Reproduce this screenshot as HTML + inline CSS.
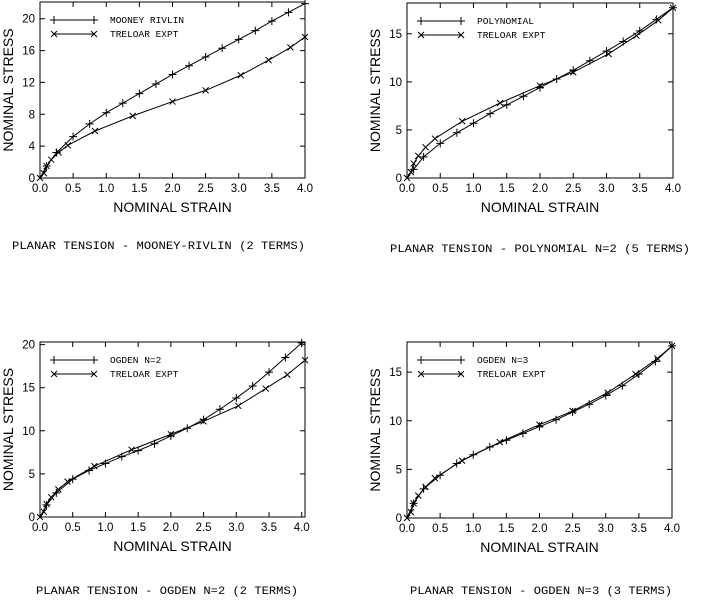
<!DOCTYPE html>
<html><head><meta charset="utf-8"><style>
html,body{margin:0;padding:0;background:#fff;}
svg{display:block}
text{font-family:"Liberation Sans",sans-serif;fill:#000}
.m{font-family:"Liberation Mono",monospace}
</style></head><body>
<svg id="s" width="705" height="604" viewBox="0 0 705 604" xmlns="http://www.w3.org/2000/svg"></svg>
<script>
const S=document.getElementById('s');let h='';
const T=[[0,0],[0.06,0.6],[0.1,1.5],[0.17,2.3],[0.28,3.2],[0.42,4.1],[0.83,5.9],[1.4,7.8],[2.0,9.6],[2.5,11.0],[3.03,12.9],[3.45,14.8],[3.78,16.4],[4.0,17.7]];
const T3=[[0,0],[0.06,0.6],[0.1,1.5],[0.17,2.3],[0.28,3.2],[0.42,4.1],[0.83,5.9],[1.4,7.8],[2.0,9.6],[2.5,11.1],[3.03,12.9],[3.45,14.9],[3.78,16.5],[4.05,18.2]];
const xs=[0,0.1,0.25,0.5,0.75,1,1.25,1.5,1.75,2,2.25,2.5,2.75,3,3.25,3.5,3.75,4];
const z=(a)=>a.map((v,i)=>[xs[i],v]);
const MR=z([0,1.5,3.2,5.2,6.8,8.2,9.4,10.6,11.8,13,14.1,15.2,16.3,17.4,18.5,19.7,20.8,21.9]);
const PO=z([0,0.9,2.2,3.6,4.7,5.7,6.7,7.6,8.5,9.4,10.3,11.2,12.2,13.2,14.2,15.3,16.5,17.7]);
const O2=z([0,1.4,2.8,4.4,5.4,6.2,7.0,7.7,8.5,9.4,10.3,11.3,12.5,13.8,15.2,16.8,18.5,20.2]);
const O3=z([0,1.5,3.0,4.4,5.6,6.5,7.3,8.0,8.7,9.4,10.1,10.9,11.7,12.6,13.6,14.8,16.1,17.7]);
function plus(x,y){return `M${x-4},${y}h8M${x},${y-4}v8`;}
function cross(x,y){return `M${x-3},${y-3}l6,6M${x-3},${y+3}l6,-6`;}
function plot(L,R,Tp,B,xmax,ymax,yt,fit,exp,name,cap,cx,cy){
 const X=v=>L+(v/xmax)*(R-L),Y=v=>B-(v/ymax)*(B-Tp);
 h+=`<rect x="${L}" y="${Tp}" width="${R-L}" height="${B-Tp}" fill="none" stroke="#000"/>`;
 for(let i=0;i<=8;i++){const x=X(i*0.5);h+=`<path d="M${x},${B}v-5M${x},${Tp}v5" stroke="#000"/><text x="${x}" y="${B+14}" font-size="11.5" text-anchor="middle">${(i*0.5).toFixed(1)}</text>`;}
 yt.forEach(v=>{const y=Y(v);h+=`<path d="M${L},${y}h5M${R},${y}h-5" stroke="#000"/><text x="${L-5}" y="${y+4}" font-size="11.5" text-anchor="end">${v}</text>`;});
 h+=`<text x="${(L+R)/2}" y="${B+34}" font-size="14" text-anchor="middle">NOMINAL STRAIN</text>`;
 h+=`<text transform="translate(${L-27},${(Tp+B)/2}) rotate(-90)" font-size="14" text-anchor="middle">NOMINAL STRESS</text>`;
 let d='',m='';fit.forEach((p,i)=>{d+=(i?'L':'M')+X(p[0])+','+Y(p[1]);if(i)m+=plus(X(p[0]),Y(p[1]));});
 h+=`<path d="${d}${m}" fill="none" stroke="#000"/>`;
 d='';m='';exp.forEach((p,i)=>{d+=(i?'L':'M')+X(p[0])+','+Y(p[1]);m+=cross(X(p[0]),Y(p[1]));});
 h+=`<path d="${d}${m}" fill="none" stroke="#000"/>`;
 const lx=L+14,ly=Tp+18;
 h+=`<path d="M${lx},${ly}h40${plus(lx,ly)}${plus(lx+40,ly)}M${lx},${ly+14}h40${cross(lx,ly+14)}${cross(lx+40,ly+14)}" stroke="#000" fill="none"/>`;
 h+=`<text class="m" x="${lx+56}" y="${ly+3}" font-size="9.5">${name}</text><text class="m" x="${lx+56}" y="${ly+17}" font-size="9.5">TRELOAR EXPT</text>`;
 h+=`<text class="m" x="${cx}" y="${cy}" font-size="11" textLength="${cap[1]}" lengthAdjust="spacingAndGlyphs">${cap[0]}</text>`;
}
plot(40,305,2,178,4,22.1,[0,4,8,12,16,20],MR,T,'MOONEY RIVLIN',['PLANAR TENSION - MOONEY-RIVLIN (2 TERMS)',293],12,249);
plot(407,673,3,178,4,18.2,[0,5,10,15],PO,T,'POLYNOMIAL',['PLANAR TENSION - POLYNOMIAL N=2 (5 TERMS)',300],390,252);
plot(40,305,342,517,4.05,20.3,[0,5,10,15,20],O2,T3,'OGDEN N=2',['PLANAR TENSION - OGDEN N=2 (2 TERMS)',262],36,594);
plot(407,672,342,518,4,18.1,[0,5,10,15],O3,T,'OGDEN N=3',['PLANAR TENSION - OGDEN N=3 (3 TERMS)',262],410,594);
S.innerHTML=h;
</script>
</body></html>
